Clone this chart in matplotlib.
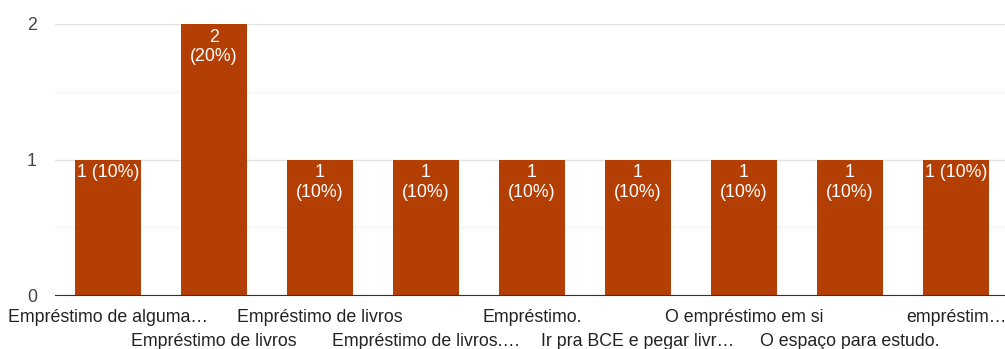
import matplotlib
matplotlib.use("Agg")
from matplotlib import pyplot as plt
from matplotlib.ticker import MultipleLocator

# respostas e contagens
labels = [
    "Empréstimo de alguma…",
    "Empréstimo de livros",
    "Empréstimo de livros",
    "Empréstimo de livros.…",
    "Empréstimo.",
    "Ir pra BCE e pegar livr…",
    "O empréstimo em si",
    "O espaço para estudo.",
    "empréstim…",
]
counts = [1, 2, 1, 1, 1, 1, 1, 1, 1]
total = 10
# rótulos numa linha só (os outros quebram em duas)
one_line = [0, 8]

plt.rcParams["font.family"] = ["Liberation Sans", "DejaVu Sans"]

fig = plt.figure(figsize=(10.05, 3.49), dpi=100)
ax = fig.add_axes([55 / 1005, 54 / 349, 950 / 1005, 271 / 349])

x = list(range(len(counts)))
bars = ax.bar(x, counts, width=0.62, color="#b33f04", zorder=3)

for i, (b, c) in enumerate(zip(bars, counts)):
    pct = round(100 * c / total)
    txt = f"{c} ({pct}%)" if i in one_line else f"{c}\n({pct}%)"
    ax.annotate(txt, (b.get_x() + b.get_width() / 2, c), xytext=(0, -3.5),
                textcoords="offset points", ha="center", va="top",
                color="white", fontsize=12.8, linespacing=1.2, zorder=4)

ax.set_xlim(-0.5, -0.5 + 950 / 106)
ax.set_ylim(0, 2)
ax.yaxis.set_major_locator(MultipleLocator(1))
ax.yaxis.set_minor_locator(MultipleLocator(0.5))
ax.grid(axis="y", which="major", color="#e4e4e4", linewidth=1, zorder=0)
ax.grid(axis="y", which="minor", color="#f3f3f3", linewidth=1, zorder=0)

for s in ["top", "right", "left"]:
    ax.spines[s].set_visible(False)
ax.spines["bottom"].set_color("#333333")
ax.spines["bottom"].set_zorder(5)

ax.set_xticks(x)
ax.set_xticklabels(labels, fontsize=12.8, color="#222222")
ax.tick_params(axis="x", length=0, pad=10)
ax.tick_params(axis="y", which="both", length=0, pad=13, labelsize=12.8, labelcolor="#444444")
for i, t in enumerate(ax.xaxis.get_major_ticks()):
    if i % 2 == 1:
        t.set_pad(27)

fig.savefig("out.png", dpi=100)
